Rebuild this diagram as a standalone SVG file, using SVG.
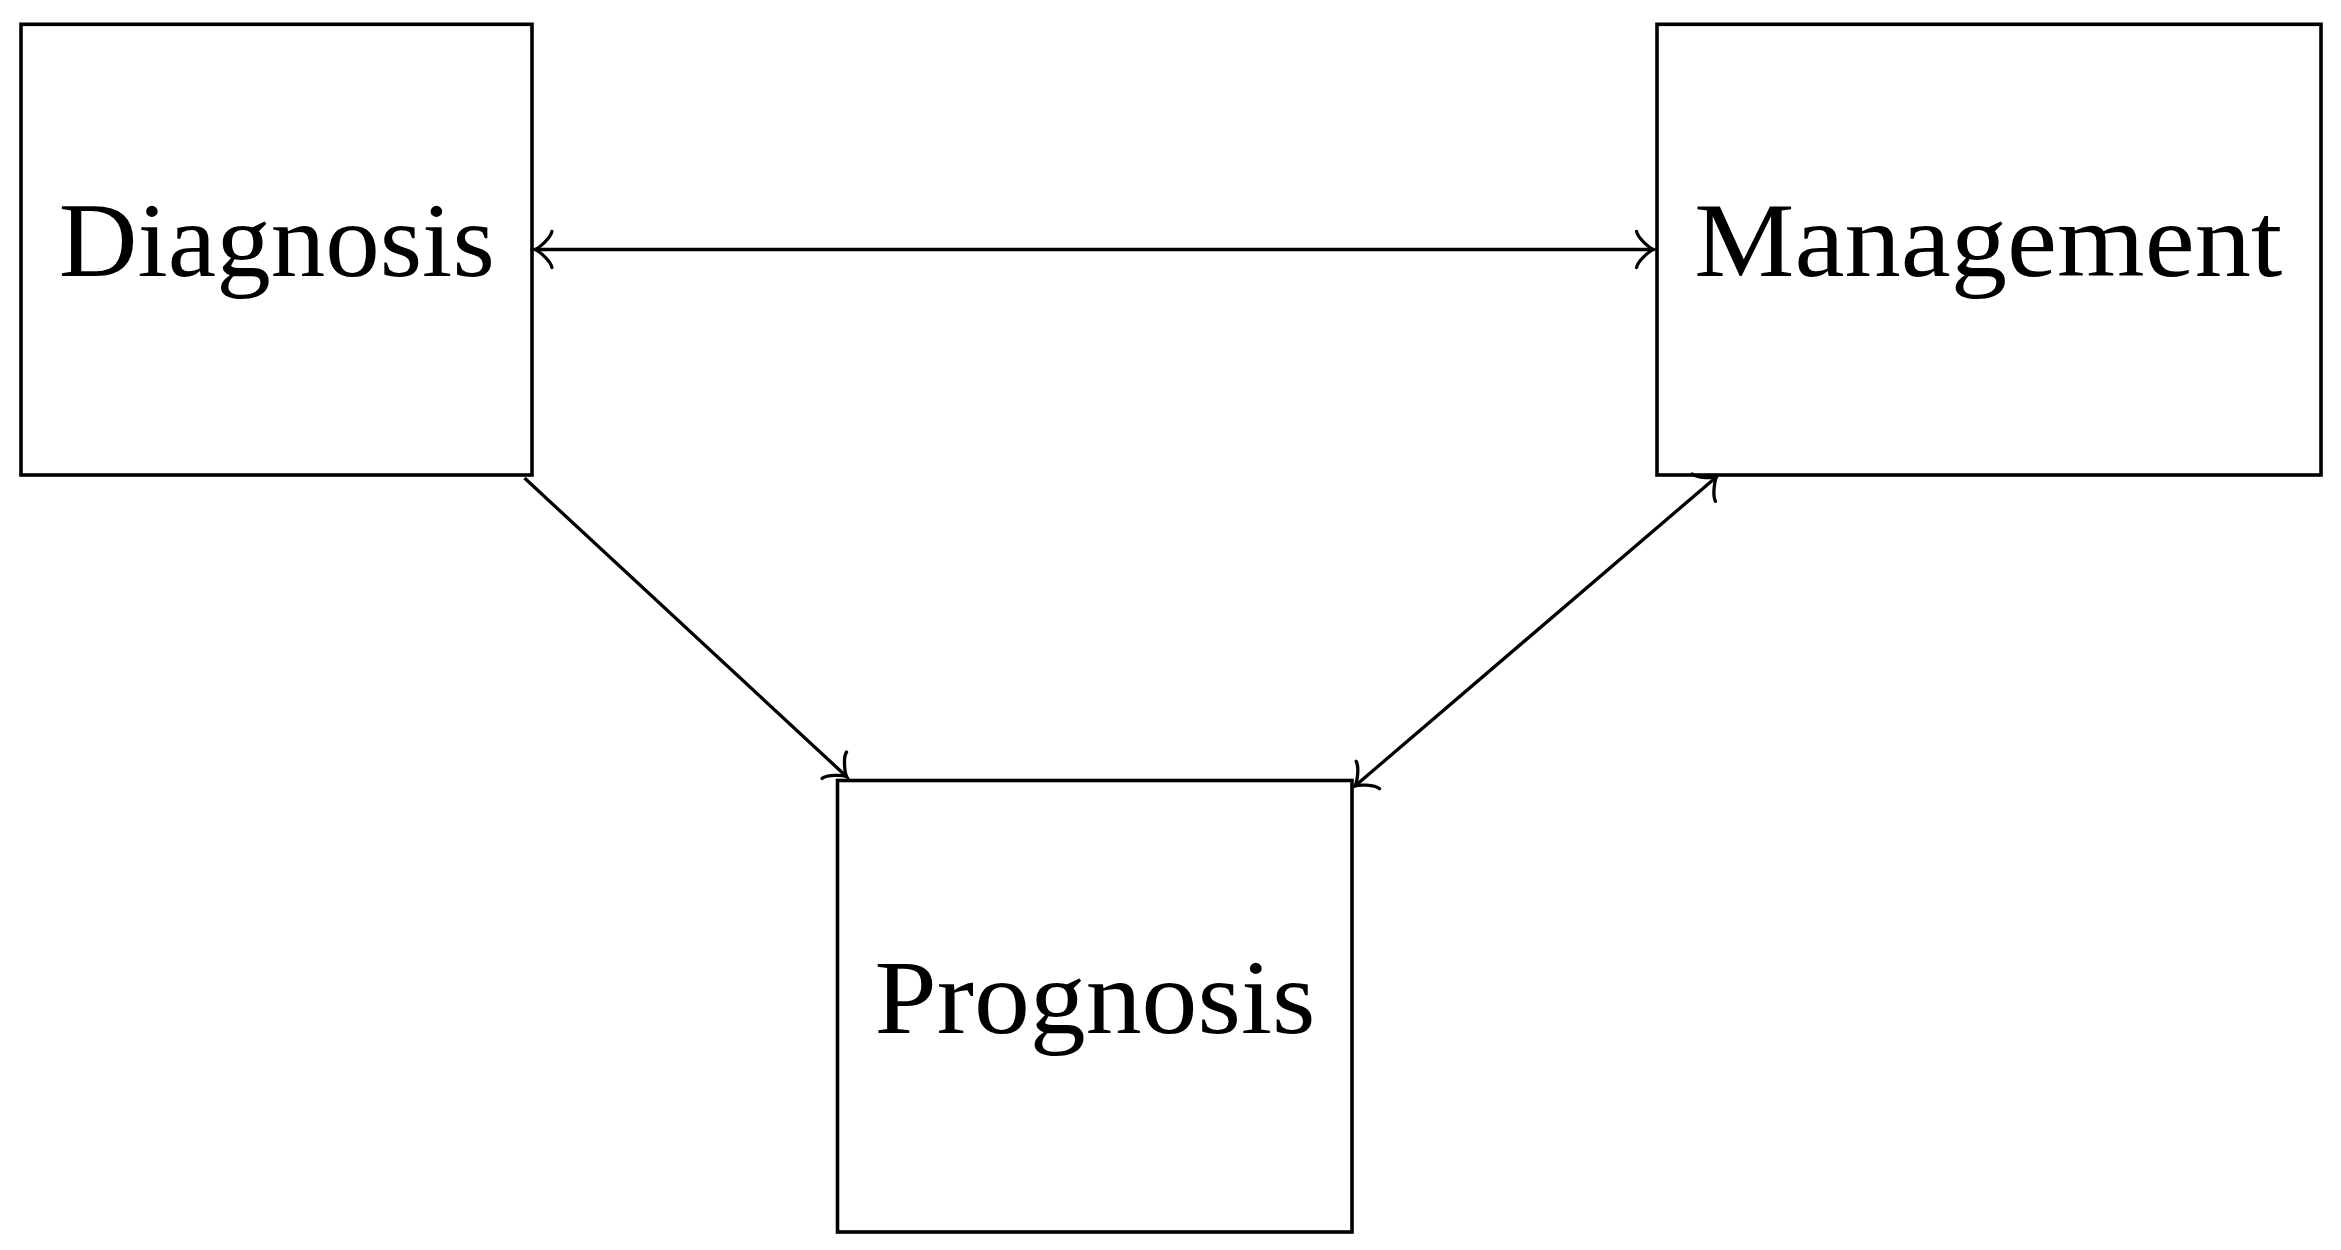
<svg xmlns="http://www.w3.org/2000/svg" width="2341" height="1250" viewBox="0 0 2341 1250">
<style>
.box{fill:#fff;stroke:#000;stroke-width:3.6}
.lbl{font-family:"Liberation Serif","DejaVu Serif",serif;font-size:105px;fill:#000;text-anchor:middle}
.edge{fill:none;stroke:#000;stroke-width:3.3}
</style>
<defs>
<marker id="to" markerUnits="userSpaceOnUse" orient="auto-start-reverse" refX="0" refY="0" markerWidth="40" markerHeight="40" overflow="visible">
<path d="M -16.9,18 C -15.75,11.25 -3.4,1.1 0,0 C -3.4,-1.1 -15.75,-11.25 -16.9,-18" fill="none" stroke="#000" stroke-width="3.3" stroke-linecap="round"/>
</marker>
</defs>
<rect width="2341" height="1250" fill="#fff"/>
<g id="diagnosis">
<rect class="box" x="21" y="24.3" width="511" height="450.7"/>
<text class="lbl" x="276.8" y="276" textLength="436" lengthAdjust="spacingAndGlyphs">Diagnosis</text>
</g>
<g id="management">
<rect class="box" x="1657" y="24.3" width="664" height="450.7"/>
<text class="lbl" x="1988.3" y="276" textLength="588" lengthAdjust="spacingAndGlyphs">Management</text>
</g>
<g id="prognosis">
<rect class="box" x="837.5" y="780.5" width="514.5" height="451.5"/>
<text class="lbl" x="1095" y="1032.5" textLength="441" lengthAdjust="spacingAndGlyphs">Prognosis</text>
</g>
<g id="connectors">
<line class="edge" x1="535" y1="249.5" x2="1653.5" y2="249.5" marker-start="url(#to)" marker-end="url(#to)"/>
<line class="edge" x1="524.5" y1="478" x2="846.7" y2="776.7" marker-end="url(#to)"/>
<line class="edge" x1="1716.7" y1="476.7" x2="1355" y2="786" marker-start="url(#to)" marker-end="url(#to)"/>
</g>
</svg>
